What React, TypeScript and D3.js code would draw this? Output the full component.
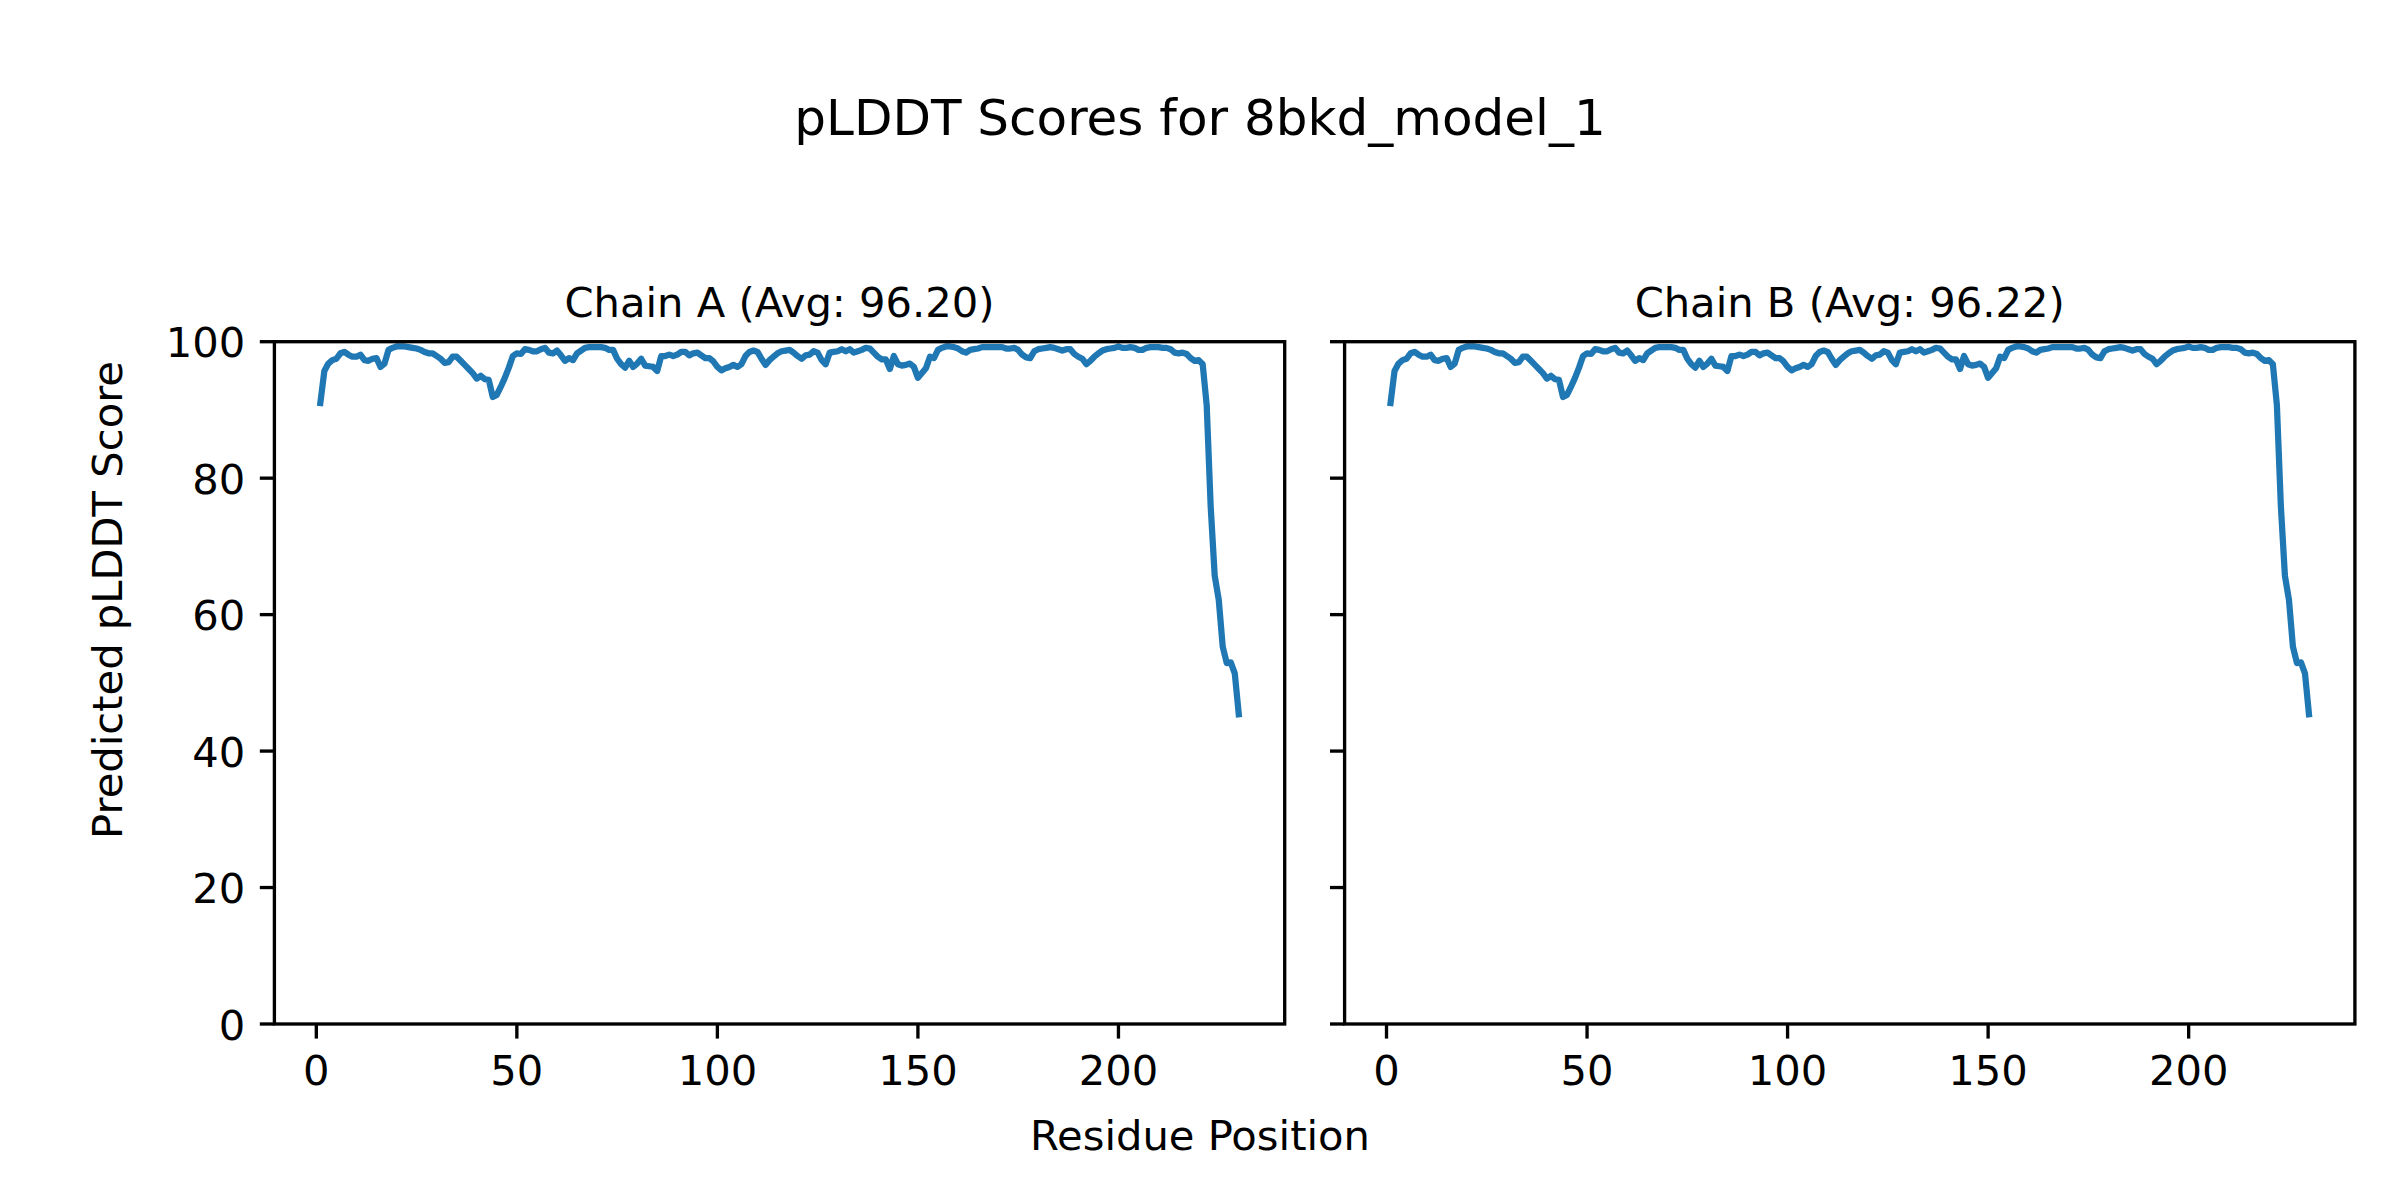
import React from 'react';
import * as d3 from 'd3';

// pLDDT values per residue (residue 1..230)
const chainA: number[] = [
  91.0, 95.7, 96.8, 97.3, 97.5, 98.3, 98.5, 98.1, 97.8, 97.8,
  98.1, 97.3, 97.2, 97.5, 97.6, 96.3, 96.8, 98.8, 99.1, 99.3,
  99.3, 99.3, 99.2, 99.1, 99.0, 98.8, 98.5, 98.3, 98.3, 97.9,
  97.5, 96.9, 97.0, 97.8, 97.8, 97.2, 96.6, 96.0, 95.4, 94.6,
  95.0, 94.5, 94.4, 91.9, 92.2, 93.4, 94.7, 96.2, 97.9, 98.3,
  98.2, 98.9, 98.8, 98.6, 98.6, 98.9, 99.1, 98.4, 98.3, 98.7,
  98.0, 97.2, 97.6, 97.3, 98.3, 98.7, 99.1, 99.2, 99.2, 99.2,
  99.2, 99.1, 98.8, 98.8, 97.5, 96.7, 96.2, 97.2, 96.3, 96.8,
  97.5, 96.5, 96.4, 96.3, 95.7, 97.9, 97.9, 98.1, 97.9, 98.1,
  98.5, 98.5, 98.0, 98.3, 98.4, 98.0, 97.6, 97.6, 97.1, 96.3,
  95.8, 96.1, 96.3, 96.6, 96.3, 96.7, 97.9, 98.5, 98.7, 98.5,
  97.5, 96.6, 97.3, 97.8, 98.3, 98.6, 98.7, 98.8, 98.4, 97.9,
  97.5, 98.0, 98.1, 98.6, 98.4, 97.3, 96.7, 98.4, 98.5, 98.6,
  98.9, 98.6, 98.9, 98.4, 98.6, 98.8, 99.1, 99.0, 98.4, 97.8,
  97.4, 97.4, 96.0, 97.9, 96.7, 96.5, 96.6, 96.8, 96.3, 94.7,
  95.4, 96.1, 97.8, 97.6, 98.8, 99.1, 99.3, 99.3, 99.2, 99.0,
  98.6, 98.4, 98.8, 98.9, 99.0, 99.2, 99.2, 99.2, 99.2, 99.2,
  99.2, 99.0, 99.0, 99.1, 98.8, 98.1, 97.7, 97.6, 98.6, 98.9,
  99.0, 99.1, 99.2, 99.1, 98.9, 98.7, 98.9, 98.9, 98.2, 97.8,
  97.5, 96.7, 97.2, 97.8, 98.3, 98.7, 98.9, 99.0, 99.1, 99.3,
  99.1, 99.1, 99.2, 99.1, 98.8, 98.8, 99.1, 99.2, 99.2, 99.2,
  99.1, 99.1, 98.9, 98.4, 98.3, 98.4, 98.2, 97.6, 97.2, 97.3,
  96.7, 90.7, 75.8, 65.7, 62.2, 55.3, 52.9, 53.0, 51.4, 45.4,
];

const chainB: number[] = [
  91.0, 95.7, 96.8, 97.3, 97.5, 98.3, 98.5, 98.1, 97.8, 97.8,
  98.1, 97.3, 97.2, 97.5, 97.6, 96.3, 96.8, 98.8, 99.1, 99.3,
  99.3, 99.3, 99.2, 99.1, 99.0, 98.8, 98.5, 98.3, 98.3, 97.9,
  97.5, 96.9, 97.0, 97.8, 97.8, 97.2, 96.6, 96.0, 95.4, 94.6,
  95.0, 94.5, 94.4, 91.9, 92.2, 93.4, 94.7, 96.2, 97.9, 98.3,
  98.2, 98.9, 98.8, 98.6, 98.6, 98.9, 99.1, 98.4, 98.3, 98.7,
  98.0, 97.2, 97.6, 97.3, 98.3, 98.7, 99.1, 99.2, 99.2, 99.2,
  99.2, 99.1, 98.8, 98.8, 97.5, 96.7, 96.2, 97.2, 96.3, 96.8,
  97.5, 96.5, 96.4, 96.3, 95.7, 97.9, 97.9, 98.1, 97.9, 98.1,
  98.5, 98.5, 98.0, 98.3, 98.4, 98.0, 97.6, 97.6, 97.1, 96.3,
  95.8, 96.1, 96.3, 96.6, 96.3, 96.7, 97.9, 98.5, 98.7, 98.5,
  97.5, 96.6, 97.3, 97.8, 98.3, 98.6, 98.7, 98.8, 98.4, 97.9,
  97.5, 98.0, 98.1, 98.6, 98.4, 97.3, 96.7, 98.4, 98.5, 98.6,
  98.9, 98.6, 98.9, 98.4, 98.6, 98.8, 99.1, 99.0, 98.4, 97.8,
  97.4, 97.4, 96.0, 97.9, 96.7, 96.5, 96.6, 96.8, 96.3, 94.7,
  95.4, 96.1, 97.8, 97.6, 98.8, 99.1, 99.3, 99.3, 99.2, 99.0,
  98.6, 98.4, 98.8, 98.9, 99.0, 99.2, 99.2, 99.2, 99.2, 99.2,
  99.2, 99.0, 99.0, 99.1, 98.8, 98.1, 97.7, 97.6, 98.6, 98.9,
  99.0, 99.1, 99.2, 99.1, 98.9, 98.7, 98.9, 98.9, 98.2, 97.8,
  97.5, 96.7, 97.2, 97.8, 98.3, 98.7, 98.9, 99.0, 99.1, 99.3,
  99.1, 99.1, 99.2, 99.1, 98.8, 98.8, 99.1, 99.2, 99.2, 99.2,
  99.1, 99.1, 98.9, 98.4, 98.3, 98.4, 98.2, 97.6, 97.2, 97.3,
  96.7, 90.7, 75.8, 65.7, 62.2, 55.3, 52.9, 53.0, 51.4, 45.4,
];

const panelTitles = ['Chain A (Avg: 96.20)', 'Chain B (Avg: 96.22)'];
const xTicks = [0, 50, 100, 150, 200];
const yTicks = [0, 20, 40, 60, 80, 100];
const figTitle = 'pLDDT Scores for 8bkd_model_1';
const xLabel = 'Residue Position';
const yLabel = 'Predicted pLDDT Score';

const W = 2400;
const H = 1200;
const FONT = 'DejaVu Sans, sans-serif';
const PT = 300 / 72;
const TICK_FS = 10 * PT;
const LW = 0.8 * PT;
const TICK_LEN = 3.5 * PT;
const TICK_PAD = 3.5 * PT;
const BLUE = '#1f77b4';

const axTop = 341.7;
const axBottom = 1024;
const axWidth = 1010.3;
const panelLefts = [274.4, 1344.6];

function Panel({ values, title, left, showYLabels }: { values: number[]; title: string; left: number; showYLabels: boolean }) {
  const xs = values.map((_, i) => i + 1);
  const [x0, x1] = d3.extent(xs) as [number, number];
  const pad = (x1 - x0) * 0.05;
  const x = d3.scaleLinear().domain([x0 - pad, x1 + pad]).range([left, left + axWidth]);
  const y = d3.scaleLinear().domain([0, 100]).range([axBottom, axTop]);
  const line = d3.line<number>().x((_, i) => x(i + 1)).y((d) => y(d));
  const clipId = `clip-${Math.round(left)}`;
  return (
    <g>
      <defs>
        <clipPath id={clipId}>
          <rect x={left} y={axTop} width={axWidth} height={axBottom - axTop} />
        </clipPath>
      </defs>
      <path d={line(values) || ''} fill="none" stroke={BLUE} strokeWidth={1.5 * PT} strokeLinejoin="round" strokeLinecap="square" clipPath={`url(#${clipId})`} />
      <rect x={left} y={axTop} width={axWidth} height={axBottom - axTop} fill="none" stroke="#000" strokeWidth={LW} />
      {xTicks.map((t) => (
        <g key={`x${t}`}>
          <line x1={x(t)} x2={x(t)} y1={axBottom} y2={axBottom + TICK_LEN} stroke="#000" strokeWidth={LW} />
          <text x={x(t)} y={axBottom + TICK_LEN + TICK_PAD + 0.76 * TICK_FS} textAnchor="middle" fontFamily={FONT} fontSize={TICK_FS} fill="#000">{t}</text>
        </g>
      ))}
      {yTicks.map((t) => (
        <g key={`y${t}`}>
          <line x1={left - TICK_LEN} x2={left} y1={y(t)} y2={y(t)} stroke="#000" strokeWidth={LW} />
          {showYLabels && (
            <text x={left - TICK_LEN - TICK_PAD} y={y(t) + 15.5} textAnchor="end" fontFamily={FONT} fontSize={TICK_FS} fill="#000">{t}</text>
          )}
        </g>
      ))}
      <text x={left + axWidth / 2} y={axTop - 6 * PT} textAnchor="middle" fontFamily={FONT} fontSize={TICK_FS} fill="#000">{title}</text>
    </g>
  );
}

export default function App() {
  const series = [chainA, chainB];
  return (
    <svg width={W} height={H} viewBox={`0 0 ${W} ${H}`} style={{ position: 'absolute', left: 0, top: 0, background: '#fff' }}>
      <rect x={0} y={0} width={W} height={H} fill="#fff" />
      <text x={W / 2} y={135} textAnchor="middle" fontFamily={FONT} fontSize={12 * PT} fill="#000">{figTitle}</text>
      {series.map((vals, i) => (
        <Panel key={i} values={vals} title={panelTitles[i]} left={panelLefts[i]} showYLabels={i === 0} />
      ))}
      <text x={W / 2} y={1150} textAnchor="middle" fontFamily={FONT} fontSize={TICK_FS} fill="#000">{xLabel}</text>
      <text transform={`translate(122, 600) rotate(-90)`} textAnchor="middle" fontFamily={FONT} fontSize={TICK_FS} fill="#000">{yLabel}</text>
    </svg>
  );
}
